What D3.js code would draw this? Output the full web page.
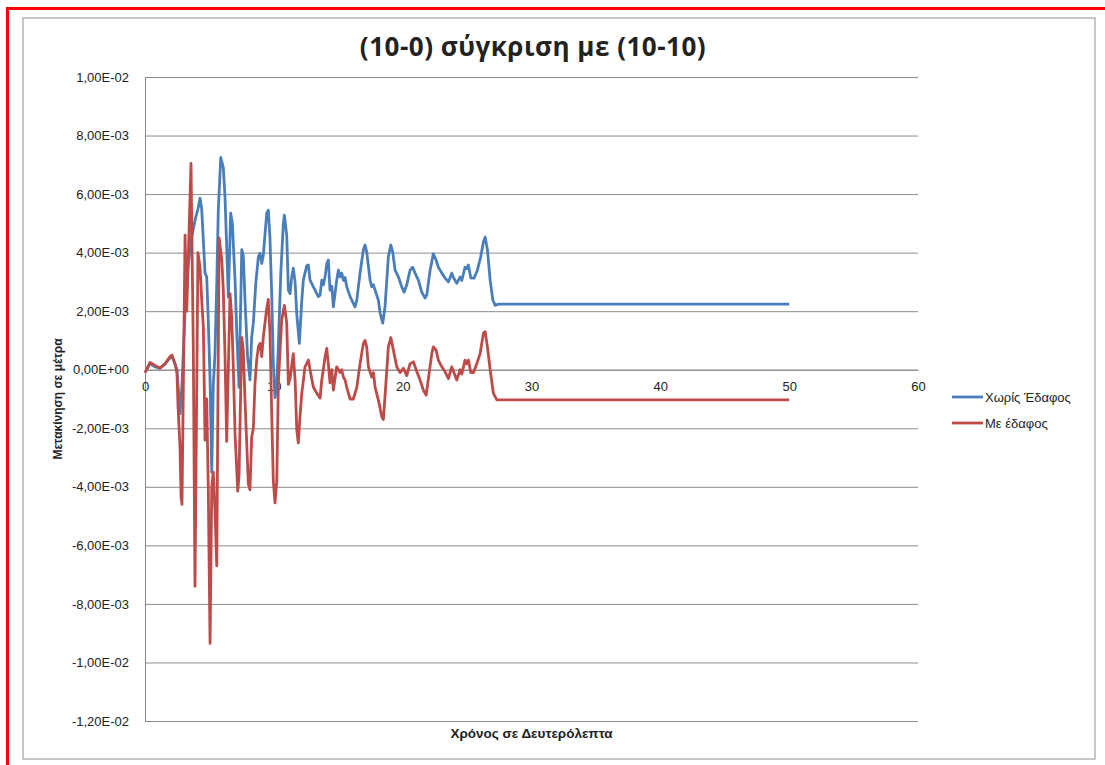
<!DOCTYPE html>
<html>
<head>
<meta charset="utf-8">
<script src="https://cdnjs.cloudflare.com/ajax/libs/d3/7.8.5/d3.min.js"></script>
<style>
  body { margin: 0; background: #fff; }
  text { font-family: "Liberation Sans", Arial, sans-serif; fill: #222; }
</style>
</head>
<body>
<div id="chart"></div>
<script>
// values are in units of 1e-3 m (the axis labels show metres)
var seriesNames = ["Χωρίς Έδαφος", "Με έδαφος"];
var xTicks = [0, 10, 20, 30, 40, 50, 60];
var yTicks = [-12, -10, -8, -6, -4, -2, 0, 2, 4, 6, 8, 10];
var yTickLabels = ["-1,20E-02", "-1,00E-02", "-8,00E-03", "-6,00E-03", "-4,00E-03", "-2,00E-03",
  "0,00E+00", "2,00E-03", "4,00E-03", "6,00E-03", "8,00E-03", "1,00E-02"];

var timeBlue = [0, 0.39, 0.78, 1.16, 1.55, 1.94, 2.10, 2.33, 2.48, 2.72, 2.87, 3.11, 3.34, 3.57, 3.88,
  4.11, 4.27, 4.40, 4.53, 4.66, 4.79, 4.91, 5.05, 5.18, 5.30, 5.43, 5.57, 5.69, 5.88, 6.08, 6.21,
  6.34, 6.47, 6.65, 6.78, 6.99, 7.12, 7.30, 7.51, 7.63, 7.76, 7.96, 8.15, 8.28, 8.41, 8.60, 8.80,
  8.93, 9.06, 9.18, 9.45, 9.57, 9.70, 9.84, 9.96, 10.09, 10.23, 10.35, 10.54, 10.74, 10.82, 11.00,
  11.13, 11.26, 11.39, 11.51, 11.65, 11.78, 11.98, 12.17, 12.29, 12.55, 12.68, 12.81, 13.07, 13.20,
  13.45, 13.59, 13.72, 13.84, 13.98, 14.11, 14.23, 14.36, 14.50, 14.62, 14.88, 15.01, 15.14, 15.27,
  15.40, 15.53, 15.66, 15.92, 16.30, 16.44, 16.69, 16.95, 17.08, 17.21, 17.47, 17.60, 17.73, 17.86,
  18.11, 18.25, 18.45, 18.63, 18.89, 19.08, 19.23, 19.41, 19.67, 19.93, 20.11, 20.32, 20.57, 20.78,
  20.96, 21.22, 21.48, 21.74, 21.87, 22.13, 22.38, 22.59, 22.77, 23.04, 23.29, 23.55, 23.81, 23.94,
  24.20, 24.46, 24.59, 24.84, 24.97, 25.10, 25.29, 25.54, 25.80, 26.06, 26.27, 26.40, 26.58, 26.79,
  27.00, 27.17, 27.43, 50];
var valuesBlue = [-0.1, 0.2, 0.1, 0.05, 0.2, 0.4, 0.45, 0.2, 0.0, -1.5, -0.5, 2.0, 3.5, 4.4, 5.1,
  5.5, 5.86, 5.5, 4.4, 3.3, 3.17, 1.7, -0.35, -3.5, -0.5, 0.5, 2.95, 5.45, 7.25, 6.9, 5.9,
  4.2, 2.48, 5.35, 5.0, 3.06, 1.3, -0.6, 4.1, 3.9, 2.4, 0.45, -0.35, 1.1, 1.6, 2.95, 3.86,
  3.98, 3.63, 3.9, 5.35, 5.45, 4.5, 2.5, 0.2, -0.95, -0.5, 0.8, 3.3, 5.0, 5.28, 4.6,
  2.72, 2.6, 3.17, 3.47, 3.0, 1.9, 0.9, 2.38, 3.06, 3.55, 3.58, 3.06, 2.83, 2.72,
  2.5, 2.55, 3.06, 2.9, 3.17, 3.63, 3.75, 2.72, 2.85, 2.15, 3.06, 3.4, 3.17, 3.3,
  3.05, 3.15, 2.83, 2.5, 2.15, 2.38, 3.3, 4.1, 4.26, 4.02, 3.06, 2.83, 2.9, 2.72,
  2.38, 1.93, 1.59, 2.15, 3.86, 4.26, 4.02, 3.4, 3.17, 2.83, 2.65, 2.9, 3.4, 3.5,
  3.3, 3.06, 2.65, 2.45, 2.55, 3.4, 3.96, 3.75, 3.5, 3.3, 3.13, 3.0, 3.3, 3.15,
  2.95, 3.17, 3.05, 3.5, 3.45, 3.58, 3.13, 3.13, 3.4, 3.86, 4.37, 4.53, 4.1, 3.06,
  2.38, 2.2, 2.24, 2.24];

var timeRed = [0, 0.39, 0.78, 1.16, 1.55, 1.94, 2.10, 2.33, 2.48, 2.56, 2.72, 2.80, 2.87, 3.11, 3.24,
  3.57, 3.75, 3.88, 4.11, 4.27, 4.40, 4.53, 4.66, 4.79, 4.91, 5.05, 5.18, 5.30, 5.43, 5.57, 5.75,
  5.96, 6.08, 6.21, 6.34, 6.60, 6.73, 6.86, 6.99, 7.20, 7.30, 7.51, 7.63, 7.76, 8.02, 8.15, 8.28,
  8.41, 8.54, 8.67, 8.80, 8.93, 9.06, 9.18, 9.45, 9.57, 9.70, 9.84, 9.96, 10.09, 10.23, 10.35,
  10.61, 10.82, 11.00, 11.13, 11.26, 11.51, 11.65, 11.78, 11.90, 12.03, 12.17, 12.42, 12.68, 12.81,
  13.07, 13.33, 13.59, 13.72, 13.84, 13.98, 14.11, 14.23, 14.36, 14.50, 14.62, 14.88, 15.14, 15.27,
  15.40, 15.53, 15.66, 15.92, 16.17, 16.44, 16.69, 16.95, 17.08, 17.21, 17.34, 17.60, 17.73, 17.86,
  18.11, 18.38, 18.50, 18.63, 18.89, 19.08, 19.28, 19.54, 19.80, 20.05, 20.32, 20.57, 20.83, 21.09,
  21.35, 21.61, 21.82, 22.00, 22.26, 22.38, 22.59, 22.77, 23.04, 23.29, 23.55, 23.81, 23.94, 24.20,
  24.46, 24.59, 24.84, 24.97, 25.10, 25.29, 25.49, 25.75, 26.01, 26.27, 26.40, 26.58, 26.79, 27.04,
  27.31, 27.56, 50];
var valuesRed = [-0.1, 0.25, 0.15, 0.05, 0.2, 0.45, 0.5, 0.2, -0.1, -1.2, -2.7, -4.35, -4.6, 4.6, 2.0,
  7.05, 0.7, -7.4, 4.0, 3.5, 2.4, 1.45, -2.4, -1.0, -4.0, -9.35, -4.0, -3.5, -4.8, -6.7, 4.5,
  3.75, 2.7, 0.5, -2.45, 2.6, 1.8, 0.0, -2.2, -4.15, -3.6, 1.1, 0.67, -1.0, -3.9, -4.1, -2.3,
  -2.0, -0.45, 0.33, 0.78, 0.9, 0.45, 1.1, 2.1, 2.4, 1.25, -1.6, -3.8, -4.55, -3.8, -0.45,
  1.7, 2.2, 1.6, -0.5, -0.3, 0.55, -0.35, -2.05, -2.5, -1.6, -0.8, 0.1, 0.33, 0.0,
  -0.6, -0.8, -0.97, -0.35, 0.0, 0.45, 0.73, 0.2, -0.45, 0.0, -0.7, 0.1, -0.1, 0.0,
  -0.25, -0.35, -0.6, -1.0, -1.0, -0.6, 0.2, 0.9, 1.0, 0.78, 0.1, -0.25, -0.1, -0.6,
  -1.03, -1.6, -1.7, -0.9, 0.78, 1.1, 0.67, 0.1, -0.1, 0.05, -0.2, 0.2, 0.27, -0.05,
  -0.35, -0.7, -0.87, -0.3, 0.55, 0.78, 0.67, 0.33, 0.1, -0.07, -0.3, 0.1, -0.05, -0.35,
  0.0, -0.15, 0.33, 0.2, 0.33, -0.1, -0.1, 0.2, 0.55, 1.25, 1.3, 0.78, 0.0, -0.8,
  -1.03, -1.03, -1.03];

var colors = ["#4a7ebb", "#be4b48"];

var W = 1105, H = 765;
var margin = { top: 77, right: 187, bottom: 44, left: 145 },
    width = W - margin.left - margin.right,
    height = H - margin.top - margin.bottom;

var svg = d3.select("#chart")
  .append("svg")
  .attr("width", W)
  .attr("height", H);

// outer red frame and the chart area border
svg.append("rect")
  .attr("x", 7.5).attr("y", 8.5)
  .attr("width", W + 10).attr("height", H + 10)
  .attr("fill", "#fff")
  .attr("stroke", "#f00")
  .attr("stroke-width", 3);
svg.append("rect")
  .attr("x", 23).attr("y", 18)
  .attr("width", 1072).attr("height", 741)
  .attr("fill", "#fff")
  .attr("stroke", "#b4b4b4")
  .attr("stroke-width", 1.5);

var g = svg.append("g")
  .attr("transform", "translate(" + margin.left + "," + margin.top + ")");

var x = d3.scaleLinear().domain([0, 60]).range([0, width]);
var y = d3.scaleLinear().domain([-12, 10]).range([height, 0]);

// gridlines
g.append("g")
  .call(d3.axisLeft(y).tickValues(yTicks).tickSize(-width).tickFormat(""))
  .call(function(s) {
    s.select(".domain").remove();
    s.selectAll("line").attr("stroke", "#8c8c8c").attr("stroke-width", 1);
  });

// y axis
g.append("g")
  .call(d3.axisLeft(y).tickValues(yTicks).tickSize(0).tickPadding(16)
    .tickFormat(function(d, i) { return yTickLabels[i]; }))
  .call(function(s) {
    s.select(".domain").attr("stroke", "#868686");
    s.selectAll("text").style("font-size", "13px").attr("fill", "#222");
  });

// x axis sits on zero
g.append("g")
  .attr("transform", "translate(0," + y(0) + ")")
  .call(d3.axisBottom(x).tickValues(xTicks).tickSize(0).tickPadding(12))
  .call(function(s) {
    s.select(".domain").attr("stroke", "#868686");
    s.selectAll("text").style("font-size", "13px").attr("fill", "#222");
  });

var line = d3.line()
  .x(function(d) { return x(d[0]); })
  .y(function(d) { return y(d[1]); });

var series = [d3.zip(timeBlue, valuesBlue), d3.zip(timeRed, valuesRed)];

g.selectAll(".series")
  .data(series)
  .enter()
  .append("path")
  .attr("class", "series")
  .attr("d", line)
  .attr("fill", "none")
  .attr("stroke", function(d, i) { return colors[i]; })
  .attr("stroke-width", 2.8)
  .attr("stroke-linejoin", "round");

// title
svg.append("text")
  .attr("x", 533)
  .attr("y", 56)
  .attr("text-anchor", "middle")
  .style("font-family", "'Open Sans', sans-serif")
  .style("font-size", "26px")
  .style("letter-spacing", "0.5px")
  .style("font-weight", "bold")
  .text("(10-0) σύγκριση με (10-10)");

// axis titles
svg.append("text")
  .attr("x", margin.left + width / 2)
  .attr("y", 738)
  .attr("text-anchor", "middle")
  .style("font-size", "13.5px")
  .style("font-weight", "bold")
  .text("Χρόνος σε Δευτερόλεπτα");

svg.append("text")
  .attr("transform", "translate(62,399) rotate(-90)")
  .attr("text-anchor", "middle")
  .style("font-size", "12px")
  .style("font-weight", "bold")
  .text("Μετακίνηση σε μέτρα");

// legend
var legend = svg.selectAll(".legend")
  .data(seriesNames)
  .enter()
  .append("g")
  .attr("class", "legend")
  .attr("transform", function(d, i) { return "translate(952," + (397 + i * 26) + ")"; });

legend.append("line")
  .attr("x1", 0).attr("x2", 31)
  .attr("stroke", function(d, i) { return colors[i]; })
  .attr("stroke-width", 2.8);

legend.append("text")
  .attr("x", 33)
  .attr("dy", "0.35em")
  .style("font-size", "13px")
  .text(function(d) { return d; });
</script>
</body>
</html>
